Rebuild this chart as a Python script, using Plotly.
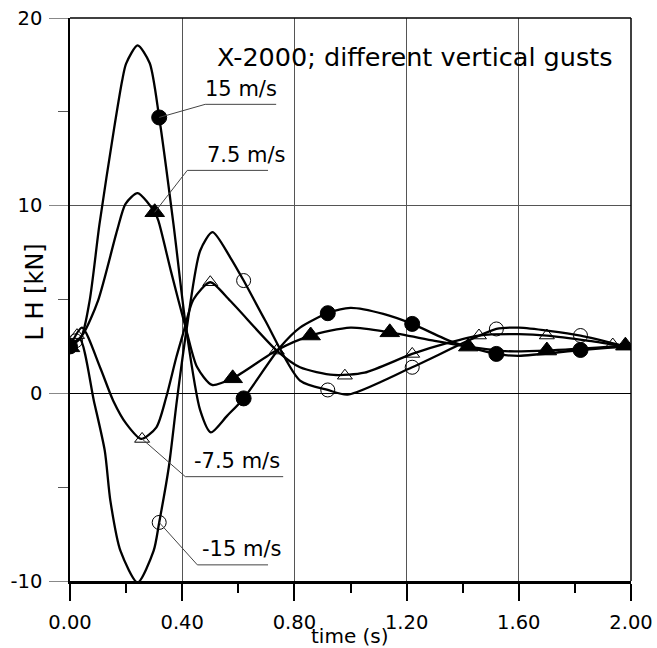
import plotly.graph_objects as go

# ---- data ----
# 15 m/s  (filled circles)
t_15 = [0.0, 0.04, 0.07, 0.105, 0.156, 0.186, 0.2, 0.241, 0.284, 0.318, 0.369, 0.415,
        0.464, 0.502, 0.56, 0.619, 0.749, 0.82, 0.919, 1.0, 1.117, 1.22, 1.366, 1.52, 1.6, 1.82, 1.98]
v_15 = [2.5, 3.0, 4.94, 9.0, 14.0, 16.67, 17.57, 18.54, 17.6, 14.7, 9.0, 3.35,
        -0.9, -2.08, -1.2, -0.27, 2.45, 3.5, 4.27, 4.55, 4.23, 3.7, 2.72, 2.1, 2.0, 2.31, 2.5]
mt_15 = [0.0, 0.318, 0.619, 0.919, 1.22, 1.52, 1.82]
mv_15 = [2.5, 14.7, -0.27, 4.27, 3.7, 2.1, 2.31]

# 7.5 m/s  (filled triangles)
t_75 = [0.0, 0.047, 0.1, 0.168, 0.198, 0.241, 0.302, 0.315, 0.36, 0.415, 0.453, 0.506,
        0.58, 0.737, 0.858, 1.0, 1.14, 1.3, 1.42, 1.55, 1.70, 1.98]
v_75 = [2.45, 3.17, 4.94, 8.68, 10.1, 10.67, 9.65, 9.2, 6.5, 3.35, 1.4, 0.45,
        0.8, 2.3, 3.08, 3.5, 3.25, 2.8, 2.49, 2.25, 2.28, 2.54]
mt_75 = [0.0, 0.302, 0.58, 0.858, 1.14, 1.42, 1.70, 1.98]
mv_75 = [2.45, 9.65, 0.8, 3.08, 3.25, 2.49, 2.28, 2.54]

# -7.5 m/s  (open triangles)
t_m75 = [0.0, 0.043, 0.107, 0.154, 0.201, 0.254, 0.308, 0.343, 0.379, 0.403, 0.44, 0.5,
         0.571, 0.737, 0.82, 0.94, 1.05, 1.22, 1.35, 1.458, 1.6, 1.70, 1.85, 1.98]
v_m75 = [2.5, 3.5, 1.39, -0.39, -1.63, -2.43, -1.81, -0.21, 1.92, 3.17, 5.0, 5.92,
         4.93, 2.28, 1.39, 0.98, 1.1, 2.1, 2.7, 3.08, 3.15, 3.08, 2.8, 2.5]
mt_m75 = [0.025, 0.257, 0.5, 0.737, 0.98, 1.22, 1.458, 1.70, 1.935]
mv_m75 = [3.1, -2.43, 5.92, 2.28, 0.94, 2.1, 3.08, 3.08, 2.6]

# -15 m/s  (open circles)
t_m15 = [0.0, 0.035, 0.085, 0.124, 0.144, 0.18, 0.241, 0.298, 0.318, 0.352, 0.381, 0.415,
         0.464, 0.508, 0.571, 0.619, 0.696, 0.82, 0.919, 0.99, 1.22, 1.52, 1.6, 1.82, 1.98]
v_m15 = [2.5, 2.9, -0.39, -3.06, -5.73, -8.4, -10.08, -8.4, -6.88, -3.95, -0.39, 3.35,
         7.6, 8.59, 7.25, 6.01, 3.88, 0.68, 0.18, -0.07, 1.39, 3.43, 3.5, 3.08, 2.5]
mt_m15 = [0.02, 0.318, 0.619, 0.919, 1.22, 1.52, 1.82]
mv_m15 = [2.8, -6.88, 6.01, 0.18, 1.39, 3.43, 3.08]

x_ticks = [0.0, 0.4, 0.8, 1.2, 1.6, 2.0]
x_ticklabels = ["0.00", "0.40", "0.80", "1.20", "1.60", "2.00"]
y_ticks = [-10, 0, 10, 20]
y_ticklabels = ["-10", "0", "10", "20"]

FONT = "DejaVu Sans"
fig = go.Figure()

series = [
    (t_15, v_15, mt_15, mv_15, "circle", 15),
    (t_75, v_75, mt_75, mv_75, "triangle-up", 17),
    (t_m75, v_m75, mt_m75, mv_m75, "triangle-up-open", 13),
    (t_m15, v_m15, mt_m15, mv_m15, "circle-open", 14),
]
for t, v, mt, mv, sym, size in series:
    fig.add_trace(go.Scatter(x=t, y=v, mode="lines",
                             line=dict(color="black", width=2.3, shape="spline", smoothing=0.7),
                             showlegend=False, hoverinfo="skip"))
    fig.add_trace(go.Scatter(x=mt, y=mv, mode="markers",
                             marker=dict(symbol=sym, size=size, color="black", line=dict(color="black", width=1)),
                             showlegend=False))

# labels with leader lines: (text, text x, text y, underline x0, x1, y, marker x, marker y)
labels = [
    ("15 m/s", 0.61, 15.45, 0.482, 0.735, 15.4, 0.318, 14.7),
    ("7.5 m/s", 0.628, 11.95, 0.418, 0.706, 11.88, 0.302, 9.65),
    ("-7.5 m/s", 0.596, -4.35, 0.411, 0.76, -4.44, 0.257, -2.43),
    ("-15 m/s", 0.61, -9.05, 0.454, 0.706, -9.14, 0.318, -6.88),
]
for txt, tx, ty, ux0, ux1, uy, mx, my in labels:
    fig.add_shape(type="line", x0=ux0, x1=ux1, y0=uy, y1=uy, line=dict(color="#444", width=1))
    fig.add_shape(type="line", x0=mx, x1=ux0, y0=my, y1=uy, line=dict(color="#444", width=1))
    fig.add_annotation(x=tx, y=ty, text=txt, showarrow=False, xanchor="center", yanchor="bottom",
                       font=dict(family=FONT, size=21, color="black"))

# top and right frame
fig.add_shape(type="line", xref="paper", yref="paper", x0=0, x1=1, y0=1, y1=1, line=dict(color="black", width=1.5))
fig.add_shape(type="line", xref="paper", yref="paper", x0=1, x1=1, y0=0, y1=1, line=dict(color="black", width=1.5))

fig.add_annotation(x=1.231, y=17.9, text="X-2000; different vertical gusts", showarrow=False,
                   xanchor="center", yanchor="middle", font=dict(family=FONT, size=25.5, color="black"))
fig.add_annotation(xref="paper", yref="paper", x=(350 - 69.5) / 562, y=(580.7 - 636) / 562.4,
                   text="time (s)", showarrow=False, xanchor="center", yanchor="middle",
                   font=dict(family=FONT, size=20, color="black"))
fig.add_annotation(xref="paper", yref="paper", x=(34 - 69.5) / 562, y=(580.7 - 292) / 562.4,
                   text="L H [kN]", textangle=-90, showarrow=False, xanchor="center", yanchor="middle",
                   font=dict(family=FONT, size=24, color="black"))

fig.update_layout(
    width=657, height=648,
    margin=dict(l=69.5, r=25.5, t=18, b=67.3, autoexpand=False),
    paper_bgcolor="white", plot_bgcolor="white",
    font=dict(family=FONT, size=19.5, color="black"),
    xaxis=dict(range=[0, 2.0], tickvals=x_ticks, ticktext=x_ticklabels, automargin=False,
               showgrid=True, gridcolor="#555", gridwidth=1, zeroline=False,
               showline=True, linecolor="black", linewidth=2.5,
               ticks="outside", ticklen=17, tickwidth=1.5, tickcolor="black", ticklabelstandoff=5,
               minor=dict(dtick=0.2, ticks="outside", ticklen=9, tickwidth=1.5, tickcolor="black", showgrid=False)),
    yaxis=dict(range=[-10, 20], tickvals=y_ticks, ticktext=y_ticklabels, automargin=False,
               showgrid=True, gridcolor="#555", gridwidth=1, zeroline=True, zerolinecolor="black", zerolinewidth=1,
               showline=True, linecolor="black", linewidth=1.5,
               ticks="outside", ticklen=19, tickwidth=1, tickcolor="#888", ticklabelstandoff=3,
               minor=dict(tickvals=[-5, 5, 15], ticks="outside", ticklen=10, tickwidth=1, tickcolor="#555", showgrid=False)),
)

fig.write_html("out.html", config={"displayModeBar": False},
               post_script="document.body.style.margin='0px';")
